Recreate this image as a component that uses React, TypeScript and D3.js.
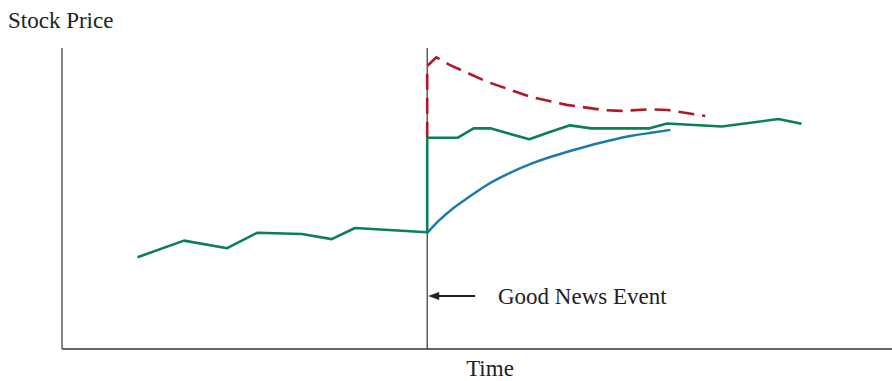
import React from "react";
import * as d3 from "d3";

const W = 892;
const H = 381;

// time values (arbitrary units, 0..100) and price values (0..100)
const eventTime = 44;

const greenBeforeT = [9.1, 14.7, 19.9, 23.5, 28.9, 32.5, 35.3, 44];
const greenBeforeV = [30.5, 36.0, 33.5, 38.6, 38.2, 36.5, 40.2, 38.8];

const greenAfterT = [44, 47.7, 49.6, 51.6, 56.3, 58.6, 61.2, 63.8, 70.8, 72.9, 79.5, 86.3, 89.1];
const greenAfterV = [70.2, 70.2, 73.3, 73.3, 69.7, 71.9, 74.3, 73.3, 73.3, 74.9, 73.9, 76.4, 74.8];

const blueT = [44, 45.5, 47.1, 49.2, 51.2, 53.6, 56.4, 59.2, 62.4, 65.6, 68.8, 71.2, 73.3];
const blueV = [38.6, 42.9, 46.7, 50.8, 54.5, 58.0, 61.4, 64.1, 66.7, 69.0, 70.9, 71.9, 72.8];

const redT = [44, 44, 45.1, 46.7, 51.2, 56.4, 60.8, 65.2, 67.4, 70.8, 73.0, 77.5];
const redV = [70.2, 94.0, 96.9, 94.4, 88.8, 83.8, 81.1, 79.4, 79.1, 79.6, 79.4, 77.4];

const yLabel = "Stock Price";
const xLabel = "Time";
const eventLabel = "Good News Event";

const zip = (t: number[], v: number[]) => t.map((d, i) => [d, v[i]] as [number, number]);

export default function App() {
  const x = d3.scaleLinear().domain([0, 100]).range([62, 892]);
  const y = d3.scaleLinear().domain([0, 100]).range([349, 48]);
  const line = d3.line<[number, number]>().x((d) => x(d[0])).y((d) => y(d[1]));
  const curve = d3
    .line<[number, number]>()
    .x((d) => x(d[0]))
    .y((d) => y(d[1]))
    .curve(d3.curveMonotoneX);

  const greenPath =
    line(zip(greenBeforeT, greenBeforeV))! + "L" + line(zip(greenAfterT, greenAfterV))!.slice(1);
  const ex = x(eventTime);
  const font = "'Liberation Serif', 'Times New Roman', serif";
  const arrowY = 296;

  return (
    <svg width={W} height={H} style={{ position: "absolute", left: 0, top: 0, background: "#fff" }}>
      {/* axes */}
      <line x1={x(0)} x2={x(0)} y1={y(100)} y2={y(0)} stroke="#444" strokeWidth={1.3} />
      <line x1={x(0)} x2={x(100)} y1={y(0)} y2={y(0)} stroke="#666" strokeWidth={2} />
      {/* event line */}
      <line x1={ex} x2={ex} y1={y(100)} y2={y(0)} stroke="#333" strokeWidth={1.2} />
      {/* red dashed */}
      <path
        d={line(zip(redT, redV))!}
        fill="none"
        stroke="#b0182a"
        strokeWidth={2.6}
        strokeDasharray="16,8"
      />
      {/* blue */}
      <path d={curve(zip(blueT, blueV))!} fill="none" stroke="#1b7bab" strokeWidth={2.5} />
      {/* green */}
      <path d={greenPath} fill="none" stroke="#0a8053" strokeWidth={2.6} strokeLinejoin="round" />
      {/* arrow */}
      <line x1={ex + 48} x2={ex + 8} y1={arrowY} y2={arrowY} stroke="#222" strokeWidth={1.8} />
      <path d={`M${ex + 1},${arrowY} L${ex + 12},${arrowY - 4} L${ex + 12},${arrowY + 4} Z`} fill="#222" />
      {/* labels */}
      <text x={8} y={28} fontFamily={font} fontSize={23} fill="#222">
        {yLabel}
      </text>
      <text x={498} y={304} fontFamily={font} fontSize={23} fill="#222">
        {eventLabel}
      </text>
      <text x={490} y={376} textAnchor="middle" fontFamily={font} fontSize={23} fill="#222">
        {xLabel}
      </text>
    </svg>
  );
}
